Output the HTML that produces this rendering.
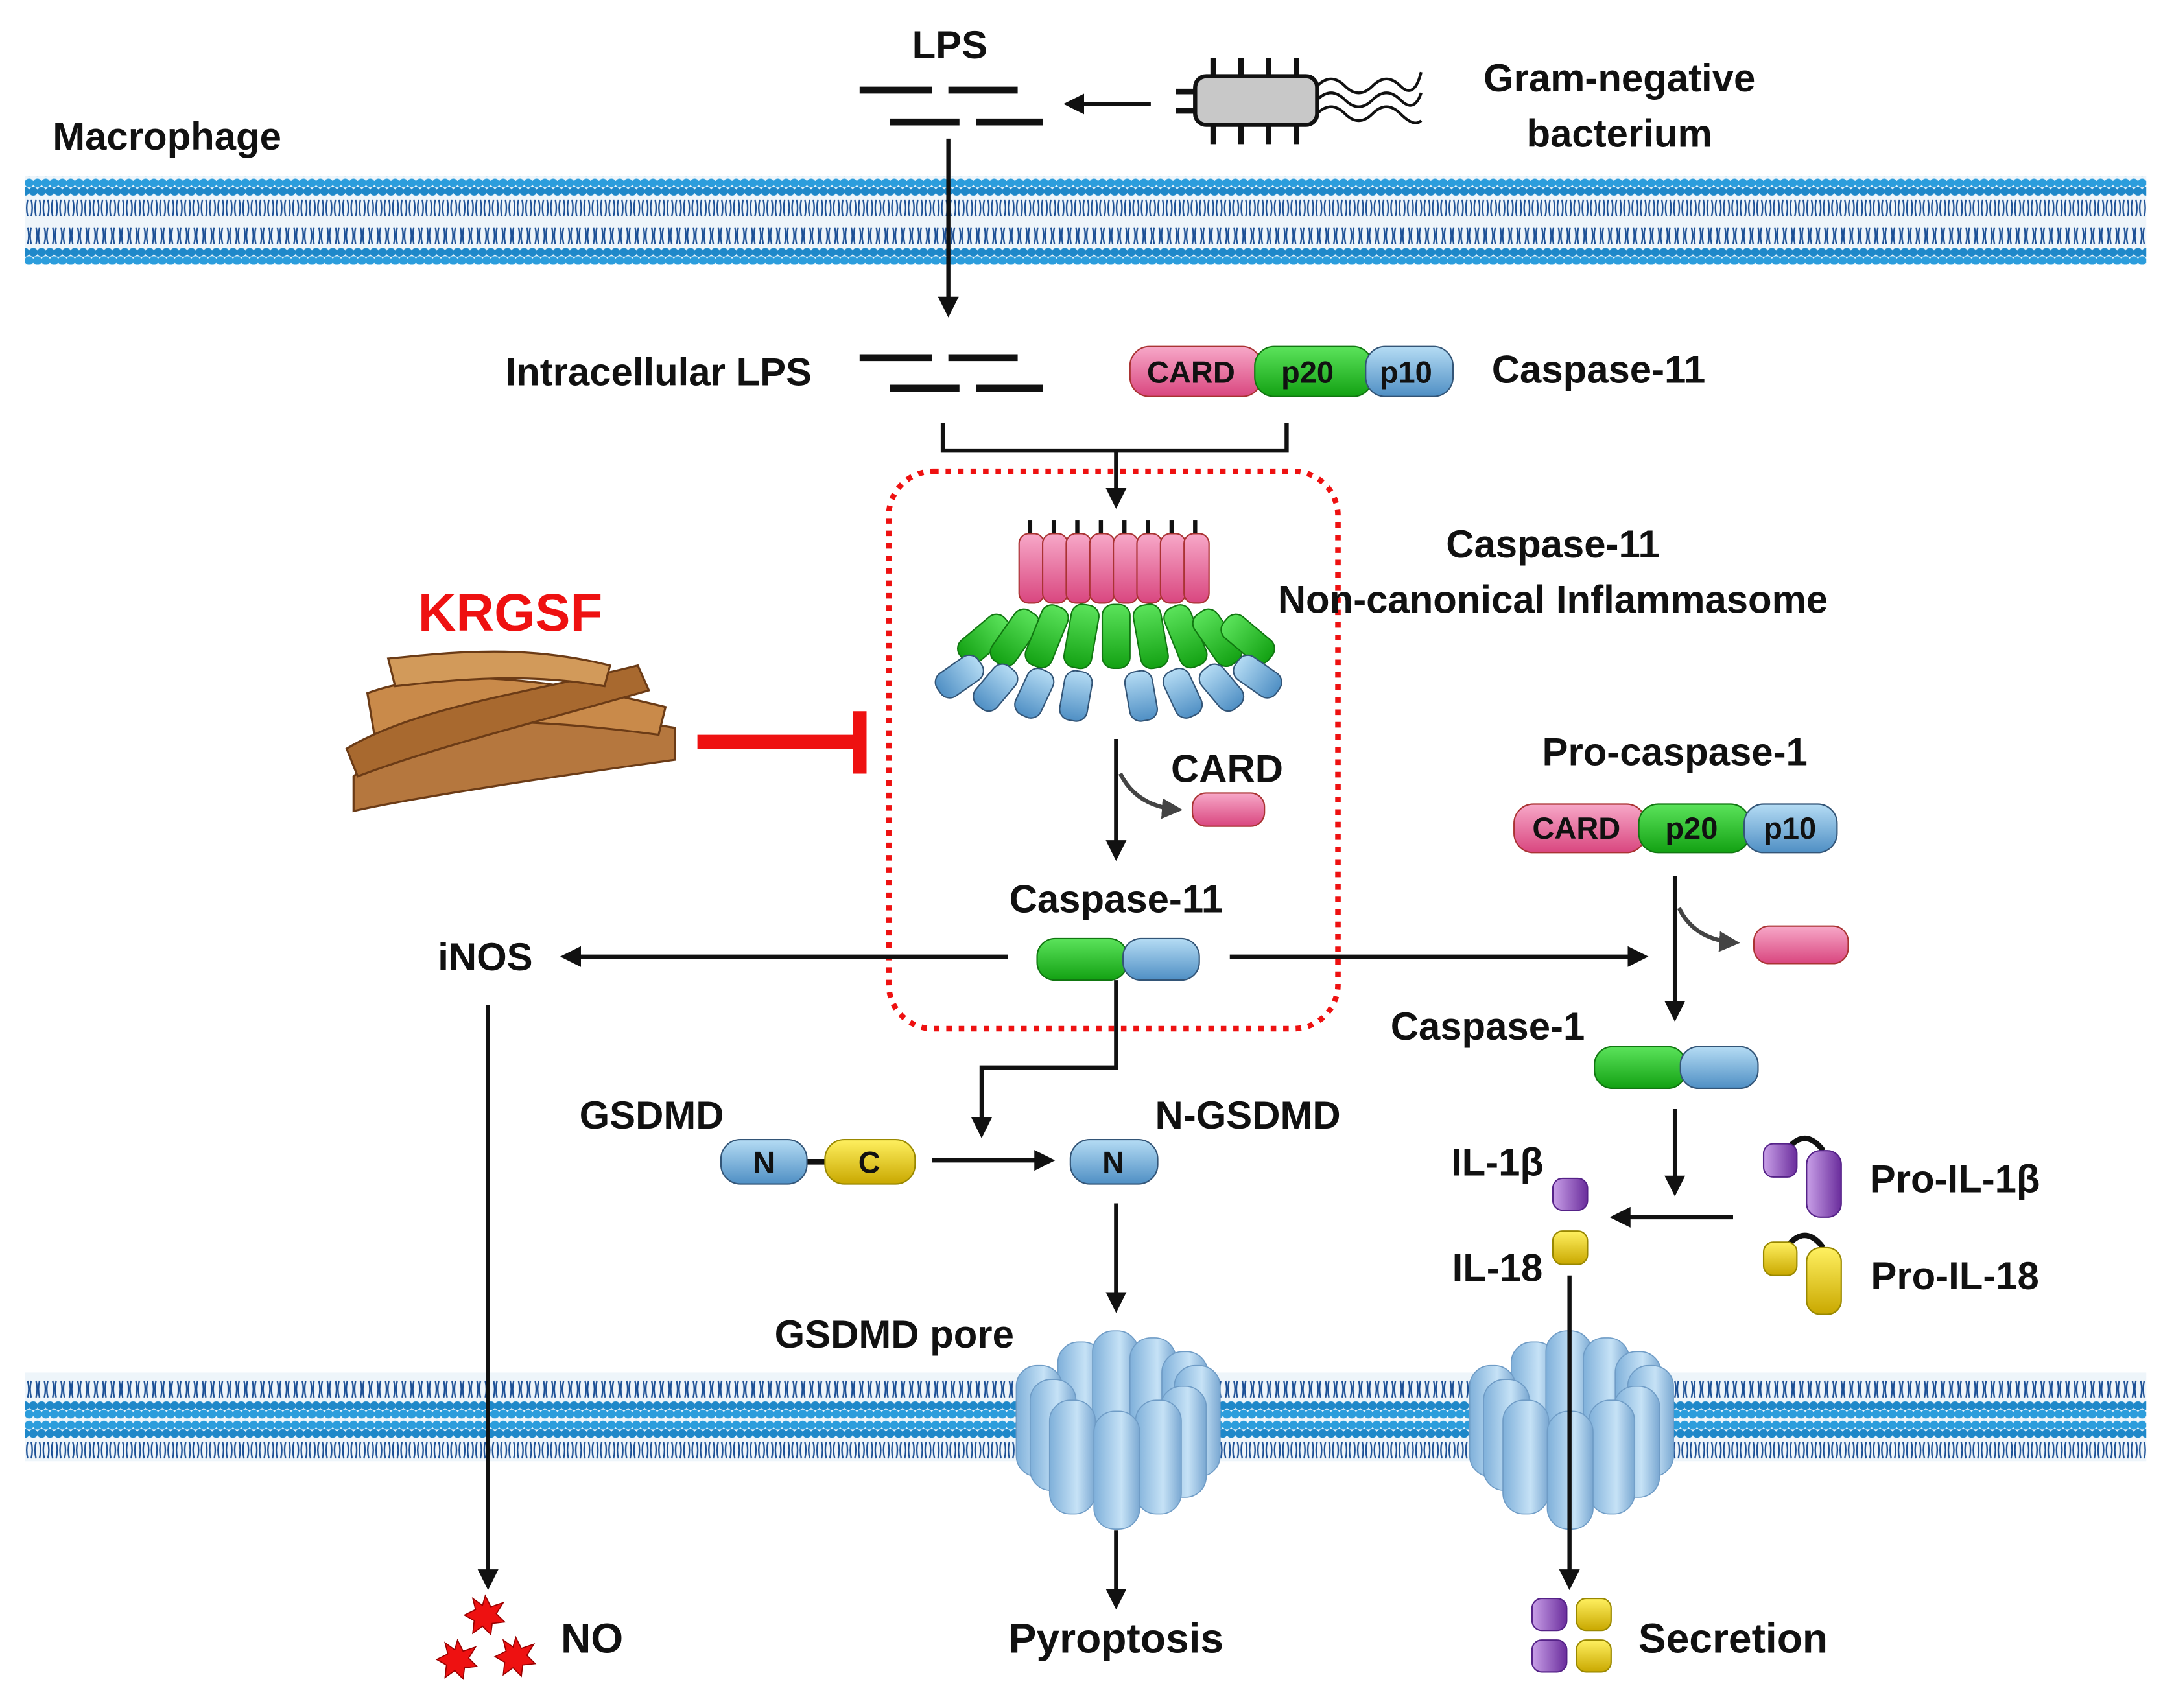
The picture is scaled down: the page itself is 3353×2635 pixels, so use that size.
<!DOCTYPE html>
<html><head><meta charset="utf-8"><style>
html,body{margin:0;padding:0;background:#fff}
svg{display:block}
text{font-family:"Liberation Sans",Arial,sans-serif;font-weight:bold;fill:#111}
</style></head><body>
<svg width="3353" height="2635" viewBox="0 0 1568 1232" preserveAspectRatio="none" xmlns="http://www.w3.org/2000/svg">
<defs>
<pattern id="mem" x="0" y="0" width="6" height="64" patternUnits="userSpaceOnUse">
<rect width="6" height="64" fill="#eef5fa"/>
<path d="M2,16 q-1.5,6 0,12 M4.5,16 q1.5,6 0,12" stroke="#1b4f95" stroke-width="1.1" fill="none"/>
<path d="M2,36 q1.5,6 0,12 M4.5,36 q-1.5,6 0,12" stroke="#1b4f95" stroke-width="1.1" fill="none"/>
<circle cx="3" cy="4" r="3.2" fill="#2c9ddc"/>
<circle cx="0" cy="10" r="3.2" fill="#1f88c9"/>
<circle cx="6" cy="10" r="3.2" fill="#1f88c9"/>
<circle cx="0" cy="54" r="3.2" fill="#1f88c9"/>
<circle cx="6" cy="54" r="3.2" fill="#1f88c9"/>
<circle cx="3" cy="60" r="3.2" fill="#2c9ddc"/>
</pattern>
<marker id="ah" viewBox="0 0 10 10" refX="8" refY="5" markerWidth="5" markerHeight="5" orient="auto"><path d="M0,0 L10,5 L0,10 z" fill="#111"/></marker>
<marker id="ahg" viewBox="0 0 10 10" refX="8" refY="5" markerWidth="5" markerHeight="5" orient="auto"><path d="M0,0 L10,5 L0,10 z" fill="#444"/></marker>
<linearGradient id="gp" x1="0" y1="0" x2="0" y2="1"><stop offset="0" stop-color="#f7a8c8"/><stop offset="1" stop-color="#d9467f"/></linearGradient>
<linearGradient id="gg" x1="0" y1="0" x2="0" y2="1"><stop offset="0" stop-color="#5be35b"/><stop offset="1" stop-color="#13a113"/></linearGradient>
<linearGradient id="gb" x1="0" y1="0" x2="0" y2="1"><stop offset="0" stop-color="#b5dcf4"/><stop offset="1" stop-color="#4f8fc4"/></linearGradient>
<linearGradient id="gy" x1="0" y1="0" x2="0" y2="1"><stop offset="0" stop-color="#fff060"/><stop offset="1" stop-color="#c9a800"/></linearGradient>
<linearGradient id="gv" x1="0" y1="0" x2="1" y2="0"><stop offset="0" stop-color="#c9a0e8"/><stop offset="1" stop-color="#6a2d9c"/></linearGradient>
<linearGradient id="gpore" x1="0" y1="0" x2="1" y2="0"><stop offset="0" stop-color="#7fb0da"/><stop offset="0.6" stop-color="#c6e2f6"/><stop offset="1" stop-color="#7aa8d2"/></linearGradient>
<g id="pore" stroke="#6f9cc6" stroke-width="0.8" fill="url(#gpore)">
<rect x="-42" y="-62" width="33" height="80" rx="15"/>
<rect x="-17" y="-70" width="33" height="80" rx="15"/>
<rect x="10" y="-65" width="33" height="80" rx="15"/>
<rect x="33" y="-55" width="33" height="80" rx="15"/>
<rect x="-72" y="-45" width="33" height="80" rx="15"/>
<rect x="42" y="-45" width="33" height="80" rx="15"/>
<rect x="-62" y="-35" width="33" height="80" rx="15"/>
<rect x="32" y="-30" width="33" height="80" rx="15"/>
<rect x="-48" y="-20" width="33" height="82" rx="15"/>
<rect x="14" y="-20" width="33" height="82" rx="15"/>
<rect x="-16" y="-12" width="33" height="85" rx="15"/>
</g>
<g id="star"><polygon points="0,-14 4,-6 13,-9 8,-1 14,5 5,6 4,14 -2,8 -9,13 -8,4 -15,0 -7,-4 -9,-12 -2,-7" fill="#e11" stroke="#900" stroke-width="0.8"/></g>
</defs>

<!-- membranes -->
<rect x="18" y="127" width="1530" height="64" fill="url(#mem)"/>
<rect x="18" y="990" width="1530" height="64" fill="url(#mem)"/>

<!-- top texts -->
<text x="38" y="108" font-size="28">Macrophage</text>
<text x="685" y="42" font-size="28" text-anchor="middle">LPS</text>
<text x="1168" y="66" font-size="28" text-anchor="middle">Gram-negative</text>
<text x="1168" y="106" font-size="28" text-anchor="middle">bacterium</text>

<g stroke="#111" stroke-width="5">
<line x1="620" y1="65" x2="672" y2="65"/><line x1="684" y1="65" x2="734" y2="65"/>
<line x1="642" y1="88" x2="692" y2="88"/><line x1="704" y1="88" x2="752" y2="88"/>
<line x1="620" y1="258" x2="672" y2="258"/><line x1="684" y1="258" x2="734" y2="258"/>
<line x1="642" y1="280" x2="692" y2="280"/><line x1="704" y1="280" x2="752" y2="280"/>
</g>
<!-- bacterium -->
<g stroke="#111" stroke-width="4">
<line x1="875" y1="42" x2="875" y2="56"/><line x1="895" y1="42" x2="895" y2="56"/><line x1="915" y1="42" x2="915" y2="56"/><line x1="935" y1="42" x2="935" y2="56"/>
<line x1="875" y1="90" x2="875" y2="104"/><line x1="895" y1="90" x2="895" y2="104"/><line x1="915" y1="90" x2="915" y2="104"/><line x1="935" y1="90" x2="935" y2="104"/>
<line x1="848" y1="66" x2="862" y2="66"/><line x1="848" y1="80" x2="862" y2="80"/>
</g>
<rect x="862" y="55" width="88" height="35" rx="8" fill="#c8c8c8" stroke="#111" stroke-width="3"/>
<g fill="none" stroke="#111" stroke-width="2">
<path d="M950,62 q10,-10 20,0 t20,0 t20,0 t15,-10"/>
<path d="M950,72 q10,-10 20,0 t20,0 t20,0 t15,-5"/>
<path d="M950,82 q10,-10 20,0 t20,0 t20,0 t15,5"/>
</g>
<line x1="830" y1="75" x2="770" y2="75" stroke="#111" stroke-width="3" marker-end="url(#ah)"/>
<line x1="684" y1="100" x2="684" y2="226" stroke="#111" stroke-width="3" marker-end="url(#ah)"/>

<text x="475" y="278" font-size="28" text-anchor="middle">Intracellular LPS</text>
<rect x="815" y="250" width="95" height="36" rx="14" fill="url(#gp)" stroke="#a33"/>
<rect x="905" y="250" width="85" height="36" rx="14" fill="url(#gg)" stroke="#171"/>
<rect x="985" y="250" width="63" height="36" rx="14" fill="url(#gb)" stroke="#357"/>
<text x="859" y="276" font-size="22" text-anchor="middle">CARD</text>
<text x="943" y="276" font-size="22" text-anchor="middle">p20</text>
<text x="1014" y="276" font-size="22" text-anchor="middle">p10</text>
<text x="1153" y="276" font-size="28" text-anchor="middle">Caspase-11</text>

<path d="M680,305 V325 H928 V305" fill="none" stroke="#111" stroke-width="3"/>
<line x1="805" y1="325" x2="805" y2="364" stroke="#111" stroke-width="3" marker-end="url(#ah)"/>

<rect x="641" y="340" width="324" height="402" rx="32" fill="none" stroke="#e11" stroke-width="4" stroke-dasharray="4,5"/>

<!-- inflammasome -->
<g stroke="#111" stroke-width="3">
<line x1="743" y1="375" x2="743" y2="388"/><line x1="760" y1="375" x2="760" y2="388"/><line x1="777" y1="375" x2="777" y2="388"/><line x1="794" y1="375" x2="794" y2="388"/><line x1="811" y1="375" x2="811" y2="388"/><line x1="828" y1="375" x2="828" y2="388"/><line x1="845" y1="375" x2="845" y2="388"/><line x1="862" y1="375" x2="862" y2="388"/>
</g>
<g fill="url(#gp)" stroke="#a33">
<rect x="735" y="385" width="18" height="50" rx="7"/><rect x="752" y="385" width="18" height="50" rx="7"/><rect x="769" y="385" width="18" height="50" rx="7"/><rect x="786" y="385" width="18" height="50" rx="7"/><rect x="803" y="385" width="18" height="50" rx="7"/><rect x="820" y="385" width="18" height="50" rx="7"/><rect x="837" y="385" width="18" height="50" rx="7"/><rect x="854" y="385" width="18" height="50" rx="7"/>
</g>
<g fill="url(#gg)" stroke="#171">
<rect x="700" y="440" width="20" height="42" rx="8" transform="rotate(50 710 461)"/>
<rect x="722" y="438" width="20" height="44" rx="8" transform="rotate(35 732 460)"/>
<rect x="745" y="436" width="20" height="46" rx="8" transform="rotate(22 755 459)"/>
<rect x="770" y="436" width="20" height="46" rx="8" transform="rotate(10 780 459)"/>
<rect x="795" y="436" width="20" height="46" rx="8"/>
<rect x="820" y="436" width="20" height="46" rx="8" transform="rotate(-10 830 459)"/>
<rect x="845" y="436" width="20" height="46" rx="8" transform="rotate(-22 855 459)"/>
<rect x="868" y="438" width="20" height="44" rx="8" transform="rotate(-35 878 460)"/>
<rect x="890" y="440" width="20" height="42" rx="8" transform="rotate(-50 900 461)"/>
</g>
<g fill="url(#gb)" stroke="#357">
<rect x="682" y="470" width="20" height="36" rx="8" transform="rotate(55 692 488)"/>
<rect x="708" y="478" width="20" height="36" rx="8" transform="rotate(40 718 496)"/>
<rect x="736" y="482" width="20" height="36" rx="8" transform="rotate(25 746 500)"/>
<rect x="766" y="484" width="20" height="36" rx="8" transform="rotate(10 776 502)"/>
<rect x="813" y="484" width="20" height="36" rx="8" transform="rotate(-10 823 502)"/>
<rect x="843" y="482" width="20" height="36" rx="8" transform="rotate(-25 853 500)"/>
<rect x="871" y="478" width="20" height="36" rx="8" transform="rotate(-40 881 496)"/>
<rect x="897" y="470" width="20" height="36" rx="8" transform="rotate(-55 907 488)"/>
</g>
<text x="1120" y="402" font-size="28" text-anchor="middle">Caspase-11</text>
<text x="1120" y="442" font-size="28" text-anchor="middle">Non-canonical Inflammasome</text>

<!-- KRGSF -->
<text x="368" y="455" font-size="38" text-anchor="middle" style="fill:#e11">KRGSF</text>
<g stroke="#6b3b16" stroke-width="1.5">
<path d="M255,560 C300,520 400,510 487,525 L487,548 C400,560 300,575 255,585 Z" fill="#b5773e"/>
<path d="M265,500 C320,480 400,490 480,510 L475,530 C400,520 320,515 270,530 Z" fill="#c98a4a"/>
<path d="M250,540 C300,510 380,500 460,480 L468,498 C390,520 310,540 258,560 Z" fill="#a8692f"/>
<path d="M280,475 C330,470 380,465 440,480 L436,495 C380,485 330,490 285,495 Z" fill="#d29a5a"/>
</g>
<line x1="503" y1="535" x2="615" y2="535" stroke="#e11" stroke-width="10"/>
<line x1="620" y1="513" x2="620" y2="558" stroke="#e11" stroke-width="10"/>

<line x1="805" y1="533" x2="805" y2="618" stroke="#111" stroke-width="3" marker-end="url(#ah)"/>
<path d="M808,558 Q820,582 850,584" fill="none" stroke="#444" stroke-width="3" marker-end="url(#ahg)"/>
<text x="885" y="564" font-size="28" text-anchor="middle">CARD</text>
<rect x="860" y="572" width="52" height="24" rx="10" fill="url(#gp)" stroke="#a33"/>
<text x="805" y="658" font-size="28" text-anchor="middle">Caspase-11</text>
<rect x="748" y="677" width="65" height="30" rx="13" fill="url(#gg)" stroke="#171"/>
<rect x="810" y="677" width="55" height="30" rx="13" fill="url(#gb)" stroke="#357"/>

<line x1="727" y1="690" x2="407" y2="690" stroke="#111" stroke-width="3" marker-end="url(#ah)"/>
<text x="350" y="700" font-size="28" text-anchor="middle">iNOS</text>
<line x1="887" y1="690" x2="1186" y2="690" stroke="#111" stroke-width="3" marker-end="url(#ah)"/>

<text x="1208" y="552" font-size="28" text-anchor="middle">Pro-caspase-1</text>
<rect x="1092" y="580" width="95" height="35" rx="14" fill="url(#gp)" stroke="#a33"/>
<rect x="1182" y="580" width="80" height="35" rx="14" fill="url(#gg)" stroke="#171"/>
<rect x="1258" y="580" width="67" height="35" rx="14" fill="url(#gb)" stroke="#357"/>
<text x="1137" y="605" font-size="22" text-anchor="middle">CARD</text>
<text x="1220" y="605" font-size="22" text-anchor="middle">p20</text>
<text x="1291" y="605" font-size="22" text-anchor="middle">p10</text>
<line x1="1208" y1="632" x2="1208" y2="734" stroke="#111" stroke-width="3" marker-end="url(#ah)"/>
<path d="M1211,655 Q1222,678 1252,680" fill="none" stroke="#444" stroke-width="3" marker-end="url(#ahg)"/>
<rect x="1265" y="668" width="68" height="27" rx="11" fill="url(#gp)" stroke="#a33"/>
<text x="1073" y="750" font-size="28" text-anchor="middle">Caspase-1</text>
<rect x="1150" y="755" width="66" height="30" rx="13" fill="url(#gg)" stroke="#171"/>
<rect x="1212" y="755" width="56" height="30" rx="13" fill="url(#gb)" stroke="#357"/>
<line x1="1208" y1="800" x2="1208" y2="860" stroke="#111" stroke-width="3" marker-end="url(#ah)"/>
<line x1="1250" y1="878" x2="1164" y2="878" stroke="#111" stroke-width="3" marker-end="url(#ah)"/>

<text x="1080" y="848" font-size="28" text-anchor="middle">IL-1β</text>
<rect x="1120" y="850" width="25" height="23" rx="7" fill="url(#gv)" stroke="#528"/>
<text x="1080" y="924" font-size="28" text-anchor="middle">IL-18</text>
<rect x="1120" y="888" width="25" height="24" rx="7" fill="url(#gy)" stroke="#980"/>

<path d="M1285,835 Q1300,810 1315,830" fill="none" stroke="#111" stroke-width="4"/>
<rect x="1272" y="825" width="24" height="24" rx="7" fill="url(#gv)" stroke="#528"/>
<rect x="1303" y="830" width="25" height="48" rx="10" fill="url(#gv)" stroke="#528"/>
<text x="1410" y="860" font-size="28" text-anchor="middle">Pro-IL-1β</text>
<path d="M1285,905 Q1300,880 1315,900" fill="none" stroke="#111" stroke-width="4"/>
<rect x="1272" y="896" width="24" height="24" rx="7" fill="url(#gy)" stroke="#980"/>
<rect x="1303" y="900" width="25" height="48" rx="10" fill="url(#gy)" stroke="#980"/>
<text x="1410" y="930" font-size="28" text-anchor="middle">Pro-IL-18</text>

<path d="M805,707 V770 H708 V818" fill="none" stroke="#111" stroke-width="3" marker-end="url(#ah)"/>
<text x="470" y="814" font-size="28" text-anchor="middle">GSDMD</text>
<line x1="580" y1="838" x2="598" y2="838" stroke="#111" stroke-width="4"/>
<rect x="520" y="822" width="62" height="32" rx="14" fill="url(#gb)" stroke="#357"/>
<rect x="595" y="822" width="65" height="32" rx="14" fill="url(#gy)" stroke="#980"/>
<text x="551" y="846" font-size="22" text-anchor="middle">N</text>
<text x="627" y="846" font-size="22" text-anchor="middle">C</text>
<line x1="672" y1="837" x2="758" y2="837" stroke="#111" stroke-width="3" marker-end="url(#ah)"/>
<text x="900" y="814" font-size="28" text-anchor="middle">N-GSDMD</text>
<rect x="772" y="822" width="63" height="32" rx="14" fill="url(#gb)" stroke="#357"/>
<text x="803" y="846" font-size="22" text-anchor="middle">N</text>
<line x1="805" y1="868" x2="805" y2="944" stroke="#111" stroke-width="3" marker-end="url(#ah)"/>
<text x="645" y="972" font-size="28" text-anchor="middle">GSDMD pore</text>

<use href="#pore" x="805" y="1030"/>
<use href="#pore" x="1132" y="1030"/>

<line x1="1132" y1="920" x2="1132" y2="1144" stroke="#111" stroke-width="3" marker-end="url(#ah)"/>
<line x1="805" y1="1104" x2="805" y2="1158" stroke="#111" stroke-width="3" marker-end="url(#ah)"/>
<line x1="352" y1="725" x2="352" y2="1144" stroke="#111" stroke-width="3" marker-end="url(#ah)"/>

<text x="805" y="1192" font-size="30" text-anchor="middle">Pyroptosis</text>
<use href="#star" x="350" y="1165"/>
<use href="#star" x="330" y="1197"/>
<use href="#star" x="372" y="1195"/>
<text x="427" y="1192" font-size="30" text-anchor="middle">NO</text>
<rect x="1105" y="1153" width="25" height="23" rx="7" fill="url(#gv)" stroke="#528"/>
<rect x="1137" y="1153" width="25" height="23" rx="7" fill="url(#gy)" stroke="#980"/>
<rect x="1105" y="1183" width="25" height="23" rx="7" fill="url(#gv)" stroke="#528"/>
<rect x="1137" y="1183" width="25" height="23" rx="7" fill="url(#gy)" stroke="#980"/>
<text x="1250" y="1192" font-size="30" text-anchor="middle">Secretion</text>
</svg>
</body></html>
